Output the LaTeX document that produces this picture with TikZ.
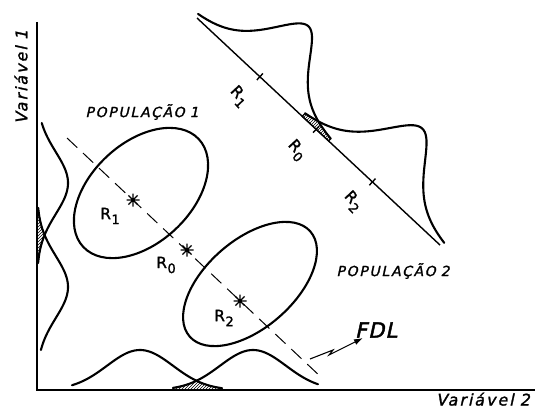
\documentclass[tikz,border=0pt]{standalone}
\usepackage{fontspec}
\setmainfont{DejaVu Sans}
\newfontfamily\lblfont[LetterSpace=12, FakeSlant=0.22, FakeBold=1.5]{DejaVu Sans}
\newfontfamily\fdlfont[LetterSpace=5, FakeSlant=0.22, FakeBold=2]{DejaVu Sans}
\newfontfamily\rfont[FakeBold=1.5]{DejaVu Sans}
\usetikzlibrary{patterns,arrows.meta}
\newcommand\subR[1]{R\kern0.5pt\raisebox{-5pt}{\fontsize{13}{13}\selectfont #1}}
\begin{document}
\begin{tikzpicture}[x=1pt,y=-1pt,
  curve/.style={line width=2.1pt, line join=round, line cap=round},
  axis/.style={line width=2.3pt},
  proj/.style={line width=1.4pt},
  ldf/.style={line width=1pt, dash pattern=on 14pt off 8pt},
  hatch/.style={pattern=north east lines, draw, line width=1.2pt},
  lbl/.style={font=\lblfont\fontsize{14}{14}\selectfont, inner sep=0pt},
  axlbl/.style={font=\lblfont\fontsize{16}{16}\selectfont, inner sep=0pt},
  rlab/.style={font=\rfont\fontsize{15.5}{16}\selectfont, inner sep=0pt},
  starline/.style={line width=1.3pt},
  starpic/.pic={\draw[starline] (-6.5,0)--(6.5,0) (0,-6.5)--(0,6.5) (-4.6,-4.6)--(4.6,4.6) (-4.6,4.6)--(4.6,-4.6);}
]
\useasboundingbox (0,0) rectangle (535,409);

% axes
\coordinate (ytop) at (37,22);
\coordinate (O) at (37,390);
\coordinate (xend) at (535,390);
\draw[axis] (ytop) -- (O) -- (xend);
\node[axlbl, rotate=90] (v1) at (21,77) {Variável\hspace{6pt}1};
\node[axlbl, anchor=base east] (v2) at (530,405.5) {Variável\hspace{6pt}2};

% marginal on vertical axis
\draw[curve] plot[domain=123:263, samples=70, smooth, variable=\t] ({37+31*exp(-((\t-183)^2)/1922)}, \t);
\draw[curve] plot[domain=208:350, samples=70, smooth, variable=\t] ({37+31*exp(-((\t-287)^2)/1922)}, \t);
\filldraw[hatch] (37,208) -- plot[domain=208:263, samples=30, variable=\t] ({37+min(31*exp(-((\t-183)^2)/1922),31*exp(-((\t-287)^2)/1922))}, \t) -- (37,263) -- cycle;

% marginal on horizontal axis
\draw[curve] plot[domain=72:222, samples=70, smooth, variable=\t] (\t, {390-40*exp(-((\t-140)^2)/2178)});
\draw[curve] plot[domain=173:318, samples=70, smooth, variable=\t] (\t, {390-40*exp(-((\t-253)^2)/2178)});
\filldraw[hatch] (173,390) -- plot[domain=173:222, samples=30, variable=\t] (\t, {390-min(40*exp(-((\t-140)^2)/2178),40*exp(-((\t-253)^2)/2178))}) -- (222,390) -- cycle;

% ellipses
\draw[curve, rotate around={43:(141,193)}] (141,193) ellipse [x radius=79, y radius=50];
\draw[curve, rotate around={41:(250,284)}] (250,284) ellipse [x radius=80, y radius=44];

% discriminant (dashed) line and centroids
\coordinate (d0) at (67,138);
\coordinate (d1) at (322,378);
\draw[ldf] (d0) -- (d1);
\coordinate (s1) at (133,200);
\coordinate (s0) at (187,250);
\coordinate (s2) at (240,301);
\pic at (s1) {starpic};
\pic at (s0) {starpic};
\pic at (s2) {starpic};
\node[rlab] (r1) at (110,216) {\subR{1}};
\node[rlab] (r0) at (166,265) {\subR{0}};
\node[rlab] (r2) at (224,318) {\subR{2}};

\node[lbl] (p1) at (142,112) {POPULAÇÃO\hspace{5pt}1};
\node[lbl] (p2) at (393,271) {POPULAÇÃO\hspace{5pt}2};

% FDL
\node[font=\fdlfont\fontsize{21}{22}\selectfont, inner sep=0pt] (fdl) at (376,330) {FDL};
\coordinate (ffoot) at (310,359);
\coordinate (ftip) at (363,338);
\draw[line width=1.1pt, -{Latex[length=9pt,width=6pt]}] (ffoot) -- (333,350) -- (329,355) -- (ftip);

% projection axis with distributions
\begin{scope}[shift={(197,18)}, x={(0.731pt,-0.683pt)}, y={(0.683pt,0.731pt)}]
  \coordinate (pa) at (0,0);
  \coordinate (pb) at (332.5,0);
  \draw[proj] (pa) -- (pb);
  \draw[proj] (86,-4.5) -- (86,4.5) (163,-4.5) -- (163,4.5) (240,-4.5) -- (240,4.5);
  \draw[curve] plot[domain=-2:180, samples=90, smooth, variable=\t] (\t, {70/cosh((\t-87)/24.5)});
  \draw[curve] plot[domain=144:334, samples=90, smooth, variable=\t] (\t, {73/cosh((\t-240)/27)});
  \filldraw[hatch] (144,0) -- plot[domain=144:180, samples=30, variable=\t] (\t, {min(70/cosh((\t-87)/24.5),73/cosh((\t-240)/27))}) -- (180,0) -- cycle;
  \node[rlab, rotate=-47] (q1) at (84,-29) {\subR{1}};
  \node[rlab, rotate=-47] (q0) at (163,-29) {\subR{0}};
  \node[rlab, rotate=-47] (q2) at (239,-28) {\subR{2}};
\end{scope}
\end{tikzpicture}
\end{document}
